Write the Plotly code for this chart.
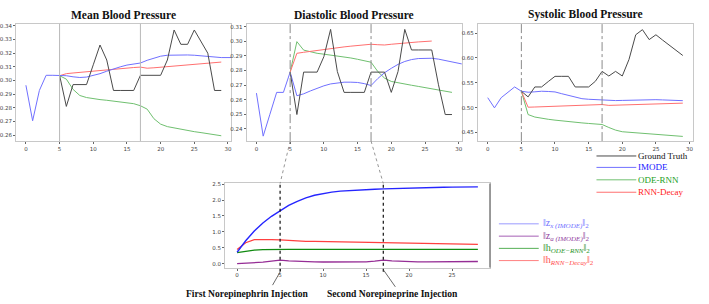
import plotly.graph_objects as go

W, H = 709, 304

# ---------------- data ----------------
t_full = list(range(0, 32))          # IMODE (runs past right edge, clipped)
t_after = list(range(5, 30))         # models / ground truth after 1st injection

mean_gt = [0.3038, 0.281, 0.297, 0.297, 0.297, 0.3115, 0.326, 0.315, 0.2927, 0.2927,
           0.2927, 0.2927, 0.3038, 0.3038, 0.3038, 0.3038, 0.315, 0.337, 0.3265, 0.3265,
           0.337, 0.3285, 0.320, 0.2927, 0.2927]
mean_imode = [0.2965, 0.2705, 0.2927, 0.3038, 0.3038, 0.3038, 0.3035, 0.3027, 0.3022, 0.3025,
              0.3035, 0.3050, 0.3068, 0.3085, 0.3100, 0.3113, 0.3122, 0.3128, 0.3148, 0.3165,
              0.3178, 0.3185, 0.3187, 0.3187, 0.3187, 0.3185, 0.3180, 0.3175, 0.3170, 0.3168,
              0.3168, 0.3168]
mean_ode = [0.3035, 0.3010, 0.2935, 0.2890, 0.2875, 0.2865, 0.2860, 0.2855, 0.2850, 0.2845,
            0.2840, 0.2830, 0.2815, 0.2790, 0.2720, 0.2680, 0.2662, 0.2652, 0.2642, 0.2633,
            0.2625, 0.2618, 0.2610, 0.2602, 0.2595]
mean_rnn = [0.3035, 0.3050, 0.3055, 0.3060, 0.3065, 0.3070, 0.3073, 0.3077, 0.3080, 0.3085,
            0.3090, 0.3095, 0.3098, 0.3090, 0.3093, 0.3097, 0.3100, 0.3105, 0.3110, 0.3113,
            0.3117, 0.3120, 0.3125, 0.3130, 0.3135]

dia_gt = [0.2789, 0.2498, 0.2789, 0.2789, 0.2789, 0.2895, 0.3082, 0.2793, 0.2650, 0.2650,
          0.2650, 0.2650, 0.2789, 0.2789, 0.2789, 0.2650, 0.2793, 0.3082, 0.2941, 0.2941,
          0.2941, 0.2941, 0.2702, 0.2498, 0.2498]
dia_imode = [0.2645, 0.2350, 0.2500, 0.2650, 0.2650, 0.2789, 0.2627, 0.2640, 0.2660, 0.2680,
             0.2695, 0.2708, 0.2716, 0.2720, 0.2720, 0.2718, 0.2710, 0.2697, 0.2745, 0.2785,
             0.2815, 0.2842, 0.2862, 0.2875, 0.2882, 0.2885, 0.2884, 0.2878, 0.2868, 0.2858,
             0.2848, 0.2840]
dia_ode = [0.2789, 0.2998, 0.2940, 0.2928, 0.2918, 0.2912, 0.2906, 0.2900, 0.2895, 0.2886,
           0.2877, 0.2867, 0.2857, 0.2793, 0.2748, 0.2725, 0.2715, 0.2707, 0.2699, 0.2691,
           0.2683, 0.2675, 0.2667, 0.2659, 0.2650]
t_dia_rnn = list(range(5, 27))
dia_rnn = [0.2789, 0.2918, 0.2925, 0.2932, 0.2938, 0.2945, 0.2952, 0.2957, 0.2962, 0.2967,
           0.2972, 0.2976, 0.2980, 0.2977, 0.2975, 0.2980, 0.2985, 0.2990, 0.2993, 0.2996,
           0.2999, 0.3002]

t_sys_imode = list(range(0, 30))
sys_gt = [0.5330, 0.5216, 0.5416, 0.5416, 0.5525, 0.5630, 0.5630, 0.5630, 0.5416, 0.5416,
          0.5416, 0.5530, 0.5730, 0.5637, 0.5730, 0.5637, 0.5970, 0.6467, 0.6570, 0.6370,
          0.6467, 0.6360, 0.6260, 0.6155, 0.6050]
sys_imode = [0.5200, 0.4995, 0.5200, 0.5310, 0.5416, 0.5330, 0.5310, 0.5318, 0.5330, 0.5325,
             0.5316, 0.5280, 0.5250, 0.5215, 0.5180, 0.5168, 0.5158, 0.5150, 0.5145, 0.5142,
             0.5145, 0.5150, 0.5160, 0.5160, 0.5160, 0.5160, 0.5155, 0.5150, 0.5145, 0.5140]
sys_ode = [0.5330, 0.4860, 0.4810, 0.4780, 0.4765, 0.4748, 0.4731, 0.4714, 0.4703, 0.4692,
           0.4681, 0.4670, 0.4660, 0.4600, 0.4547, 0.4514, 0.4503, 0.4492, 0.4481, 0.4470,
           0.4460, 0.4450, 0.4440, 0.4430, 0.4420]
sys_rnn = [0.5330, 0.5008, 0.5012, 0.5016, 0.5020, 0.5024, 0.5028, 0.5032, 0.5036, 0.5040,
           0.5044, 0.5048, 0.5062, 0.5045, 0.5048, 0.5052, 0.5056, 0.5060, 0.5064, 0.5068,
           0.5072, 0.5076, 0.5080, 0.5085, 0.5090]

t_lat = list(range(0, 29))
norm_zx = [0.36, 0.72, 1.03, 1.28, 1.49, 1.67, 1.83, 1.96, 2.07, 2.15, 2.21, 2.25, 2.28, 2.30,
           2.32, 2.33, 2.34, 2.35, 2.36, 2.37, 2.38, 2.385, 2.39, 2.395, 2.40, 2.405, 2.41,
           2.41, 2.415]
norm_za = [0.0, 0.012, 0.03, 0.05, 0.08, 0.11, 0.09, 0.072, 0.062, 0.057, 0.054, 0.052, 0.051,
           0.051, 0.053, 0.058, 0.08, 0.11, 0.092, 0.075, 0.065, 0.06, 0.058, 0.058, 0.06,
           0.062, 0.065, 0.068, 0.07]
norm_ode = [0.35, 0.40, 0.43, 0.44, 0.45, 0.45, 0.45, 0.45, 0.45, 0.45, 0.45, 0.45, 0.45, 0.45,
            0.45, 0.45, 0.45, 0.45, 0.45, 0.45, 0.45, 0.45, 0.45, 0.45, 0.45, 0.45, 0.45, 0.45,
            0.45]
norm_rnn = [0.45, 0.66, 0.76, 0.765, 0.76, 0.75, 0.73, 0.715, 0.705, 0.70, 0.695, 0.69, 0.685,
            0.68, 0.678, 0.675, 0.672, 0.67, 0.655, 0.64, 0.633, 0.628, 0.625, 0.622, 0.62,
            0.617, 0.614, 0.61, 0.605]

injections = [5, 17]
titles = ["Mean Blood Pressure", "Diastolic Blood Pressure", "Systolic Blood Pressure"]
legend_top = ["Ground Truth", "IMODE", "ODE-RNN", "RNN-Decay"]
legend_bottom = ["‖z<sub><i>x (IMODE)</i></sub>‖<sub>2</sub>",
                 "‖z<sub><i>a (IMODE)</i></sub>‖<sub>2</sub>",
                 "‖h<sub><i>ODE−RNN</i></sub>‖<sub>2</sub>",
                 "‖h<sub><i>RNN−Decay</i></sub>‖<sub>2</sub>"]
annot_texts = ["First Norepinephrin Injection", "Second Norepineprine Injection"]

# ---------------- layout geometry (pixels) ----------------
top_y = (22, 140)
panels_x = [(14.2, 230.0), (245.7, 461.7), (478.0, 693.5)]
bot_x, bot_y = (224.0, 490.0), (182.7, 267.3)
xr_top = [-1.45, 30.45]
yr_top = [[0.2556, 0.3415], [0.2316, 0.3120], [0.4326, 0.6687]]
dt_top = [0.01, 0.01, 0.05]
xr_bot, yr_bot = [-1.4, 29.4], [-0.12, 2.52]

def dx(p):
    return [p[0] / W, p[1] / W]

def dy(p):
    return [1 - p[1] / H, 1 - p[0] / H]

GT_C, IM_C, ODE_C, RNN_C = "#4a4a4a", "#7070ff", "#70c070", "#ff7070"
TICKFONT = dict(family="DejaVu Sans", size=5.5, color="#444444")
SERIF = "Liberation Serif"

fig = go.Figure()

def add(x, y, color, width, k):
    fig.add_trace(go.Scatter(x=x, y=y, mode="lines", line=dict(color=color, width=width),
                             xaxis="x" if k == 1 else f"x{k}", yaxis="y" if k == 1 else f"y{k}",
                             showlegend=False, hoverinfo="skip"))

series = [
    (mean_gt, mean_imode, mean_ode, mean_rnn, t_full, t_after),
    (dia_gt, dia_imode, dia_ode, dia_rnn, t_full, t_dia_rnn),
    (sys_gt, sys_imode, sys_ode, sys_rnn, t_sys_imode, t_after),
]
for i, (gt, im, ode, rnn, t_im, t_rnn) in enumerate(series, start=1):
    add(t_after, ode, ODE_C, 1, i)
    add(t_rnn, rnn, RNN_C, 1, i)
    add(t_im, im, IM_C, 1, i)
    add(t_after, gt, GT_C, 1, i)

add(t_lat, norm_ode, "#108a10", 1.3, 4)
add(t_lat, norm_rnn, "#ff4040", 1.3, 4)
add(t_lat, norm_za, "#952d95", 1.3, 4)
add(t_lat, norm_zx, "#2525ff", 1.4, 4)

axcommon = dict(showgrid=False, zeroline=False, showline=True, mirror=True, linecolor="#c8c8c8",
                linewidth=1, ticks="outside", ticklen=2, tickwidth=0.8, tickcolor="#666666",
                tickfont=TICKFONT)
lay = {}
for i in range(1, 4):
    xs = "xaxis" if i == 1 else f"xaxis{i}"
    ys = "yaxis" if i == 1 else f"yaxis{i}"
    lay[xs] = dict(axcommon, domain=dx(panels_x[i - 1]), range=xr_top, dtick=5, tick0=0,
                   anchor="y" if i == 1 else f"y{i}")
    lay[ys] = dict(axcommon, domain=dy(top_y), range=yr_top[i - 1], dtick=dt_top[i - 1],
                   tickformat=".2f", anchor="x" if i == 1 else f"x{i}")
lay["xaxis4"] = dict(axcommon, domain=dx(bot_x), range=xr_bot, dtick=5, tick0=0, anchor="y4")
lay["yaxis4"] = dict(axcommon, domain=dy(bot_y), range=yr_bot, dtick=0.5, tickformat=".1f",
                     anchor="x4")

shapes = []
annotations = []

# injection markers in the top panels
for i in range(1, 4):
    xr = "x" if i == 1 else f"x{i}"
    yr = "y domain" if i == 1 else f"y{i} domain"
    for v in injections:
        shapes.append(dict(type="line", xref=xr, yref=yr, x0=v, x1=v, y0=0, y1=1,
                           line=dict(color="#b8b8b8" if i == 1 else "#8a8a8a", width=1,
                                     dash="solid" if i == 1 else "dashdot")))

# dotted markers in the bottom panel
for v in injections:
    shapes.append(dict(type="line", xref="x4", yref="paper", x0=v, x1=v,
                       y0=1 - 271.5 / H, y1=1 - 182.5 / H,
                       line=dict(color="#111111", width=1.2, dash="dot")))

# right spine of bottom panel darker
shapes.append(dict(type="line", xref="paper", yref="paper", x0=bot_x[1] / W, x1=bot_x[1] / W,
                   y0=1 - bot_y[1] / H, y1=1 - bot_y[0] / H, line=dict(color="#555555", width=1)))

def data_to_px(v, dom, rng):
    return dom[0] + (v - rng[0]) / (rng[1] - rng[0]) * (dom[1] - dom[0])

# connectors from diastolic panel to bottom panel
for v in injections:
    xa = data_to_px(v, panels_x[1], xr_top)
    xb = data_to_px(v, bot_x, xr_bot)
    shapes.append(dict(type="line", xref="paper", yref="paper", x0=xa / W, x1=xb / W,
                       y0=1 - top_y[1] / H, y1=1 - bot_y[0] / H,
                       line=dict(color="#8a8a8a", width=0.9, dash="dot")))

# titles
for i, t in enumerate(titles):
    cx = (panels_x[i][0] + panels_x[i][1]) / 2
    annotations.append(dict(text=f"<b>{t}</b>", x=cx / W, y=1 - 13 / H, xref="paper", yref="paper",
                            showarrow=False, xanchor="center", yanchor="middle",
                            font=dict(family=SERIF, size=11.5, color="#111111")))

# top legend
top_cols = [(GT_C, "#111111"), (IM_C, "#1515ff"), (ODE_C, "#22a022"), (RNN_C, "#ff2020")]
for j, (lbl, (lc, tc)) in enumerate(zip(legend_top, top_cols)):
    yy = [155, 166.5, 179, 191.5][j]
    shapes.append(dict(type="line", xref="paper", yref="paper", x0=597 / W, x1=637 / W,
                       y0=1 - yy / H, y1=1 - yy / H, line=dict(color=lc, width=1)))
    annotations.append(dict(text=lbl, x=637 / W, y=1 - yy / H, xref="paper", yref="paper",
                            showarrow=False, xanchor="left", yanchor="middle",
                            font=dict(family=SERIF, size=9, color=tc)))

# bottom legend
bot_cols = [("#9a9aff", "#7070ff"), ("#a560b5", "#9040a0"), ("#55b055", "#2a952a"),
            ("#ff8080", "#ff5050")]
for j, (lbl, (lc, tc)) in enumerate(zip(legend_bottom, bot_cols)):
    yy = [223.3, 235.7, 248, 260.3][j]
    shapes.append(dict(type="line", xref="paper", yref="paper", x0=499 / W, x1=539 / W,
                       y0=1 - yy / H, y1=1 - yy / H, line=dict(color=lc, width=1)))
    annotations.append(dict(text=lbl, x=541 / W, y=1 - yy / H, xref="paper", yref="paper",
                            showarrow=False, xanchor="left", yanchor="middle",
                            font=dict(family=SERIF, size=10, color=tc)))

# injection captions and arrows
cap_cx = [246.5, 392.0]
tails = [(271.7, 285.0), (395.0, 286.7)]
tips = [(279.3, 271.7), (383.3, 270.0)]
for j, v in enumerate(injections):
    annotations.append(dict(text=f"<b>{annot_texts[j]}</b>", x=cap_cx[j] / W, y=1 - 293.5 / H,
                            xref="paper", yref="paper", showarrow=False, xanchor="center",
                            yanchor="middle", font=dict(family=SERIF, size=9.6, color="#111111")))
    shapes.append(dict(type="line", xref="paper", yref="paper",
                       x0=tails[j][0] / W, y0=1 - tails[j][1] / H,
                       x1=tips[j][0] / W, y1=1 - tips[j][1] / H,
                       line=dict(color="#444444", width=0.8)))

fig.update_layout(width=W, height=H, margin=dict(l=0, r=0, t=0, b=0), paper_bgcolor="white",
                  plot_bgcolor="white", showlegend=False, shapes=shapes,
                  annotations=annotations, **lay)
fig.write_html("out.html", config={"displayModeBar": False},
               post_script="document.body.style.margin='0';document.body.style.overflow='hidden';")
